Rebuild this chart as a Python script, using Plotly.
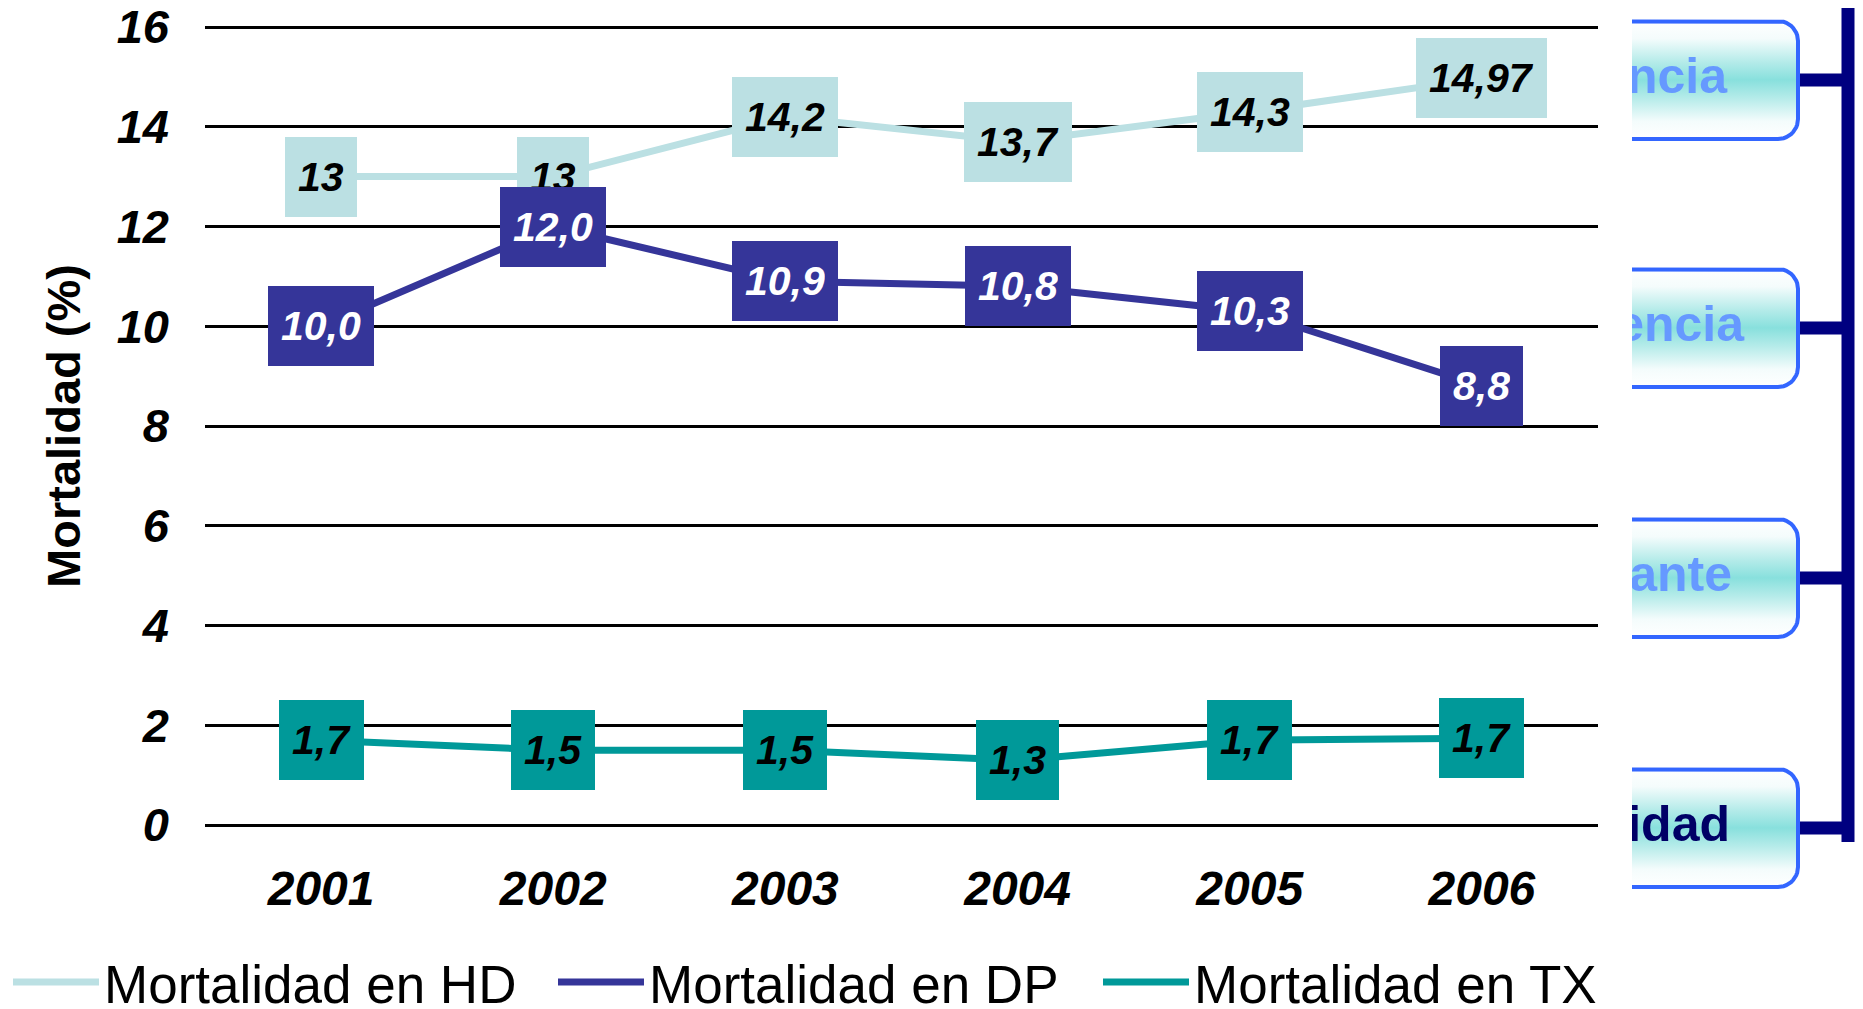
import numpy as np
import plotly.graph_objects as go

# ---------------- data ----------------
years = ["2001", "2002", "2003", "2004", "2005", "2006"]
series_names = ["Mortalidad en HD", "Mortalidad en DP", "Mortalidad en TX"]
hd_values = [13.0, 13.0, 14.2, 13.7, 14.3, 14.97]
hd_labels = ["13", "13", "14,2", "13,7", "14,3", "14,97"]
dp_values = [10.0, 12.0, 10.9, 10.8, 10.3, 8.8]
dp_labels = ["10,0", "12,0", "10,9", "10,8", "10,3", "8,8"]
tx_values = [1.7, 1.5, 1.5, 1.3, 1.7, 1.74]
tx_labels = ["1,7", "1,5", "1,5", "1,3", "1,7", "1,7"]
y_tick_values = [0, 2, 4, 6, 8, 10, 12, 14, 16]
y_title = "Mortalidad (%)"
side_words = ["ncia", "encia", "ante", "idad"]   # visible tails of the side labels

# ---------------- style ----------------
PAGE_W, PAGE_H = 1863, 1009
OFF = 8                                   # page body margin
W, H = PAGE_W - OFF, PAGE_H - OFF
FONT = "Liberation Sans, Arial, sans-serif"
HD_C, DP_C, TX_C = "#BBE0E3", "#353599", "#009999"
series = [
    (series_names[0], hd_values, hd_labels, HD_C, "black"),
    (series_names[1], dp_values, dp_labels, DP_C, "white"),
    (series_names[2], tx_values, tx_labels, TX_C, "black"),
]
y_lo, y_hi = -0.1, 16.1          # tiny padding so the 0 and 16 grid lines are drawn
px_per_unit = (825 - 27) / 16.0
plot_left, plot_right = 205 - OFF, 1598 - OFF
plot_top = 27 - (y_hi - 16) * px_per_unit - OFF
plot_bottom = 825 + (0 - y_lo) * px_per_unit - OFF
side_left = 1632                              # page coordinates for the side panel
box_spans = [(21, 139), (269, 387), (519, 637), (769, 887)]
box_right = 1798
text_right = [1727, 1744, 1732, 1730]
word_colors = ["#6699FF", "#6699FF", "#6699FF", "#000066"]
vline_x = 1848
legend_center_y = 974                          # figure pixels from top

fig = go.Figure()

for name, vals, labs, col, tcol in series:
    fig.add_trace(go.Scatter(
        x=years, y=vals, name=name, mode="lines",
        line=dict(color=col, width=7), xaxis="x", yaxis="y",
    ))

annotations = []
for name, vals, labs, col, tcol in series:
    for i, (yv, lab) in enumerate(zip(vals, labs)):
        annotations.append(dict(
            x=i, y=yv, xref="x", yref="y", text=lab, showarrow=False,
            xanchor="center", yanchor="middle",
            font=dict(family=FONT, size=41, color=tcol, weight="bold", style="italic"),
            bgcolor=col, borderpad=13, borderwidth=0, height=54,
        ))

# ---------------- decorative side boxes (clipped by subplot x2/y2) ----------------
def rounded_box(top, bottom, right, r=20, left=1500):
    xs, ys = [left], [top]
    t1 = np.linspace(np.pi / 2, 0, 12)
    cx, cy = right - r, top + r
    xs += list(cx + r * np.cos(t1)); ys += list(cy - r * np.sin(t1))
    t2 = np.linspace(0, -np.pi / 2, 12)
    cx, cy = right - r, bottom - r
    xs += list(cx + r * np.cos(t2)); ys += list(cy - r * np.sin(t2))
    xs += [left, left]; ys += [bottom, top]
    return xs, ys

grad = [[0, "#FFFFFF"], [0.15, "#F4FCFC"], [0.35, "#B4EBE9"], [0.5, "#88E0DD"],
        [0.65, "#B4EBE9"], [0.85, "#F4FCFC"], [1, "#FFFFFF"]]

shapes = []
for (top, bottom), word, tr, wc in zip(box_spans, side_words, text_right, word_colors):
    xs, ys = rounded_box(top, bottom, box_right)
    fig.add_trace(go.Scatter(
        x=xs, y=ys, mode="lines", fill="toself",
        fillgradient=dict(type="vertical", colorscale=grad),
        line=dict(color="#3366FF", width=4), showlegend=False, hoverinfo="skip",
        xaxis="x2", yaxis="y2",
    ))
    fig.add_trace(go.Scatter(
        x=[tr], y=[(top + bottom) / 2], mode="text", text=[word],
        textposition="middle left", cliponaxis=True,
        textfont=dict(family=FONT, size=50, color=wc, weight="bold"),
        showlegend=False, hoverinfo="skip", xaxis="x2", yaxis="y2",
    ))
    mid = (top + bottom) / 2
    shapes.append(dict(type="line", xref="x2", yref="y2", x0=box_right + 2, x1=vline_x,
                       y0=mid, y1=mid, line=dict(color="#000080", width=13)))

shapes.append(dict(type="line", xref="x2", yref="y2", x0=vline_x, x1=vline_x,
                   y0=0, y1=842, line=dict(color="#000080", width=13)))
shapes.append(dict(type="line", xref="x2", yref="y2", x0=vline_x + 8, x1=vline_x + 8,
                   y0=0, y1=840, line=dict(color="#9999DD", width=2)))

fig.update_layout(
    width=W, height=H,
    margin=dict(l=0, r=0, t=0, b=0, autoexpand=False),
    paper_bgcolor="white", plot_bgcolor="white",
    font=dict(family=FONT, color="black"),
    showlegend=True,
    legend=dict(
        orientation="h", xref="container", yref="container",
        x=0.0, y=(H - legend_center_y) / H, xanchor="left", yanchor="middle",
        font=dict(family=FONT, size=53, color="black"),
        entrywidth=444, entrywidthmode="pixels", itemwidth=86,
        bgcolor="rgba(0,0,0,0)", borderwidth=0,
    ),
    xaxis=dict(
        domain=[plot_left / W, plot_right / W], anchor="y",
        type="category", range=[-0.5, 5.5], automargin=False,
        showgrid=False, zeroline=False, showline=False, ticks="",
        tickfont=dict(family=FONT, size=48, color="black", weight="bold", style="italic"),
        ticklabelstandoff=26, ticklabeloverflow="allow",
    ),
    yaxis=dict(
        domain=[(H - plot_bottom) / H, (H - plot_top) / H], anchor="x",
        range=[y_lo, y_hi], tickvals=y_tick_values, automargin=False,
        showgrid=True, gridcolor="black", gridwidth=2.5,
        zeroline=False, showline=False, ticks="",
        tickfont=dict(family=FONT, size=47, color="black", weight="bold", style="italic"),
        ticklabelstandoff=35, ticklabeloverflow="allow",
        title=dict(text=y_title, standoff=21,
                   font=dict(family=FONT, size=47, color="black", weight="bold")),
    ),
    xaxis2=dict(domain=[(side_left - OFF) / W, 1], anchor="y2", range=[side_left, PAGE_W],
                visible=False, showgrid=False, zeroline=False),
    yaxis2=dict(domain=[0, 1], anchor="x2", range=[PAGE_H, OFF],
                visible=False, showgrid=False, zeroline=False),
    annotations=annotations,
    shapes=shapes,
)

fig.write_html("out.html")
